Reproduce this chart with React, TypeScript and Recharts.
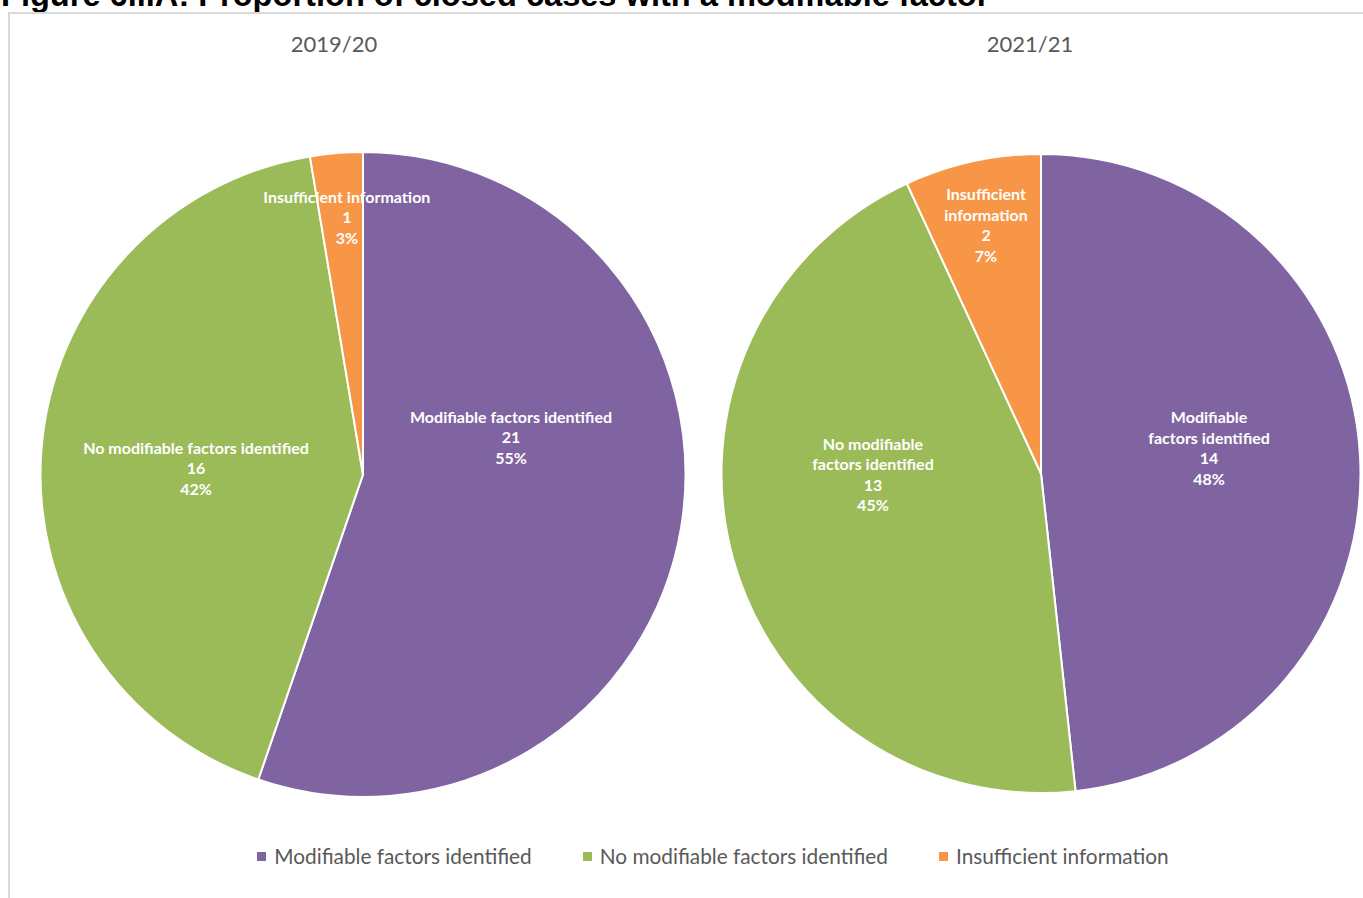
import React from 'react';
import { PieChart, Pie, Cell, Legend } from 'recharts';

const W = 1363;
const H = 898;

const categories = ['Modifiable factors identified', 'No modifiable factors identified', 'Insufficient information'];
const periods = ['2019/20', '2021/21'];
const counts1920 = [21, 16, 1];
const counts2021 = [14, 13, 2];
const labelLines1920 = [['Modifiable factors identified'], ['No modifiable factors identified'], ['Insufficient information']];
const labelLines2021 = [['Modifiable', 'factors identified'], ['No modifiable', 'factors identified'], ['Insufficient', 'information']];
const colors = ['#8064A2', '#9BBB59', '#F79646'];
const captionText = 'Figure 6iiiA: Proportion of closed cases with a modifiable factor';

// label placement (polar, degrees counter-clockwise from +x, fraction of radius) – styling only
const labelPolar1920 = [[14, 0.473], [178, 0.518], [93.6, 0.798]];
const labelPolar2021 = [[8.5, 0.532], [180.5, 0.526], [102.5, 0.795]];

const build = (counts: number[]) => {
  const total = counts.reduce((a, b) => a + b, 0);
  return categories.map((name, i) => ({ name, value: counts[i], pct: Math.round((counts[i] / total) * 100) + '%' }));
};
const data1920 = build(counts1920);
const data2021 = build(counts2021);

const makeLabel = (lines: string[][], polar: number[][], data: any[]) => (props: any) => {
  const { cx, cy, outerRadius, index } = props;
  const [deg, frac] = polar[index];
  const rad = (deg * Math.PI) / 180;
  const x = cx + Math.cos(rad) * outerRadius * frac;
  const y = cy - Math.sin(rad) * outerRadius * frac - 1.5;
  const all = [...lines[index], String(data[index].value), data[index].pct];
  const lh = 20.5;
  const y0 = y - ((all.length - 1) * lh) / 2;
  return (
    <text key={'l' + index} x={x} y={y0} fill="#fff" textAnchor="middle" dominantBaseline="central"
      style={{ fontFamily: 'Lato, sans-serif', fontWeight: 700, fontSize: 16 }}>
      {all.map((t, i) => (
        <tspan key={i} x={x} y={y0 + i * lh}>{t}</tspan>
      ))}
    </text>
  );
};

const renderLegend = () => (
  <div style={{ display: 'flex', justifyContent: 'center', alignItems: 'center', fontFamily: 'Lato, sans-serif', fontSize: 20.8, color: '#595959', lineHeight: '26px' }}>
    {categories.map((c, i) => (
      <div key={c} style={{ display: 'flex', alignItems: 'center', marginRight: i < categories.length - 1 ? 51 : 0 }}>
        <span style={{ display: 'inline-block', width: 9, height: 9, background: colors[i], marginRight: 8 }} />
        <span>{c}</span>
      </div>
    ))}
  </div>
);

export default function App() {
  return (
    <div style={{ position: 'absolute', left: 0, top: 0, width: W, height: H, background: '#fff', overflow: 'hidden' }}>
      <svg width={W} height={20} style={{ position: 'absolute', left: 0, top: 0 }}>
        <text x={1} y={5.5} style={{ font: 'bold 32.6px "Liberation Sans", Arial, sans-serif' }} fill="#000">{captionText}</text>
      </svg>
      <div style={{ position: 'absolute', left: 8, top: 12, width: W, height: H, borderLeft: '2px solid #d9d9d9', borderTop: '2px solid #d9d9d9' }} />
      <div style={{ position: 'absolute', left: 0, top: 0 }}>
        <PieChart width={W} height={H} margin={{ top: 0, right: 0, bottom: 0, left: 0 }}>
          <Pie data={data1920} dataKey="value" nameKey="name" cx={363} cy={474.5} outerRadius={322.5} startAngle={90} endAngle={-270}
            stroke="#fff" strokeWidth={2} isAnimationActive={false} labelLine={false}
            label={makeLabel(labelLines1920, labelPolar1920, data1920)}>
            {data1920.map((d, i) => <Cell key={d.name} fill={colors[i]} />)}
          </Pie>
          <Pie data={data2021} dataKey="value" nameKey="name" cx={1041} cy={473.5} outerRadius={319.5} startAngle={90} endAngle={-270}
            stroke="#fff" strokeWidth={2} isAnimationActive={false} labelLine={false}
            label={makeLabel(labelLines2021, labelPolar2021, data2021)}>
            {data2021.map((d, i) => <Cell key={d.name} fill={colors[i]} />)}
          </Pie>
          <Legend content={renderLegend} wrapperStyle={{ position: 'absolute', left: 113, top: 843, width: 1200 }} />
        </PieChart>
      </div>
      <div style={{ position: 'absolute', left: 334 - 100, width: 200, top: 30, textAlign: 'center', fontFamily: 'Lato, sans-serif', fontSize: 22, color: '#595959' }}>{periods[0]}</div>
      <div style={{ position: 'absolute', left: 1030 - 100, width: 200, top: 30, textAlign: 'center', fontFamily: 'Lato, sans-serif', fontSize: 22, color: '#595959' }}>{periods[1]}</div>
    </div>
  );
}
